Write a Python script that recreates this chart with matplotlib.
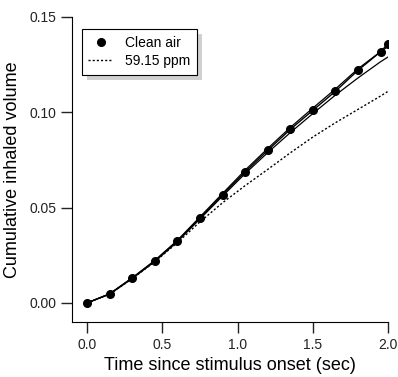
import numpy as np
import matplotlib
matplotlib.use("Agg")
from matplotlib import pyplot as plt
from matplotlib.patches import Rectangle
from matplotlib.lines import Line2D

plt.rcParams['font.family'] = ['Liberation Sans Narrow', 'Liberation Sans', 'DejaVu Sans']

# time points (sec)
t = [0.0, 0.15, 0.3, 0.45, 0.6, 0.75, 0.9, 1.05, 1.2, 1.35, 1.5, 1.65, 1.8, 1.95, 2.0]

# clean air (markers)
clean = [0.0, 0.0047, 0.013, 0.022, 0.0325, 0.0446, 0.0567, 0.0687, 0.080, 0.091,
         0.101, 0.111, 0.122, 0.1317, 0.136]
# thin solid lines around clean air
upper = [0.0, 0.0048, 0.0132, 0.0223, 0.0328, 0.0451, 0.0574, 0.0696, 0.0810, 0.0920,
         0.1022, 0.1122, 0.1228, 0.1318, 0.1345]
lower = [0.0, 0.0046, 0.0128, 0.0217, 0.0321, 0.0440, 0.0560, 0.0678, 0.0788, 0.0893,
         0.0993, 0.1090, 0.1180, 0.1265, 0.129]
# 59.15 ppm
ppm = [0.0, 0.0046, 0.0127, 0.0216, 0.0316, 0.0425, 0.0525, 0.0615, 0.0700, 0.0787,
       0.0870, 0.0945, 0.1015, 0.1085, 0.111]

fig = plt.figure(figsize=(3.98, 3.77), dpi=100)
ax = fig.add_axes([0.181, 0.146, 0.794, 0.809])

ax.plot(t, upper, color='black', lw=0.9)
ax.plot(t, lower, color='black', lw=0.9)
ax.plot(t, ppm, color='black', lw=1.0, linestyle=(0, (1.5, 1.5)))
ax.plot(t, clean, color='black', lw=1.0, marker='o', markersize=5.5)

ax.set_xlim(-0.1, 2.0)
ax.set_ylim(-0.01, 0.15)
ax.set_xticks([0.0, 0.5, 1.0, 1.5, 2.0])
ax.set_yticks([0.0, 0.05, 0.10, 0.15])
ax.set_xticklabels(['0.0', '0.5', '1.0', '1.5', '2.0'])
ax.set_yticklabels(['0.00', '0.05', '0.10', '0.15'])
ax.spines['top'].set_visible(False)
ax.spines['right'].set_visible(False)
ax.tick_params(direction='out', length=8, width=1, labelsize=10, colors='#222222')
ax.set_xlabel('Time since stimulus onset (sec)', fontsize=13, labelpad=4)
ax.set_ylabel('Cumulative inhaled volume', fontsize=13, labelpad=6)

# legend with gray drop shadow
handles = [Line2D([], [], color='black', marker='o', markersize=5.5, linestyle='none'),
           Line2D([], [], color='black', lw=1.0, linestyle=(0, (1.5, 1.5)))]
leg = ax.legend(handles, ['Clean air', '59.15 ppm'], loc='upper left',
                bbox_to_anchor=(0.03, 0.96), borderaxespad=0, fontsize=10,
                fancybox=False, edgecolor='black', framealpha=1, borderpad=0.5,
                handlelength=1.8, handletextpad=0.8, labelspacing=0.3)
leg.get_frame().set_linewidth(0.8)
leg.set_zorder(5)
fig.canvas.draw()
bb = leg.get_window_extent().transformed(fig.transFigure.inverted())
shadow = Rectangle((bb.x0 + 5 / 398, bb.y0 - 5 / 377), bb.width, bb.height,
                   transform=fig.transFigure, facecolor='#d0d0d0', edgecolor='none', zorder=4)
ax.add_artist(shadow)

fig.savefig('out.png', dpi=100)
